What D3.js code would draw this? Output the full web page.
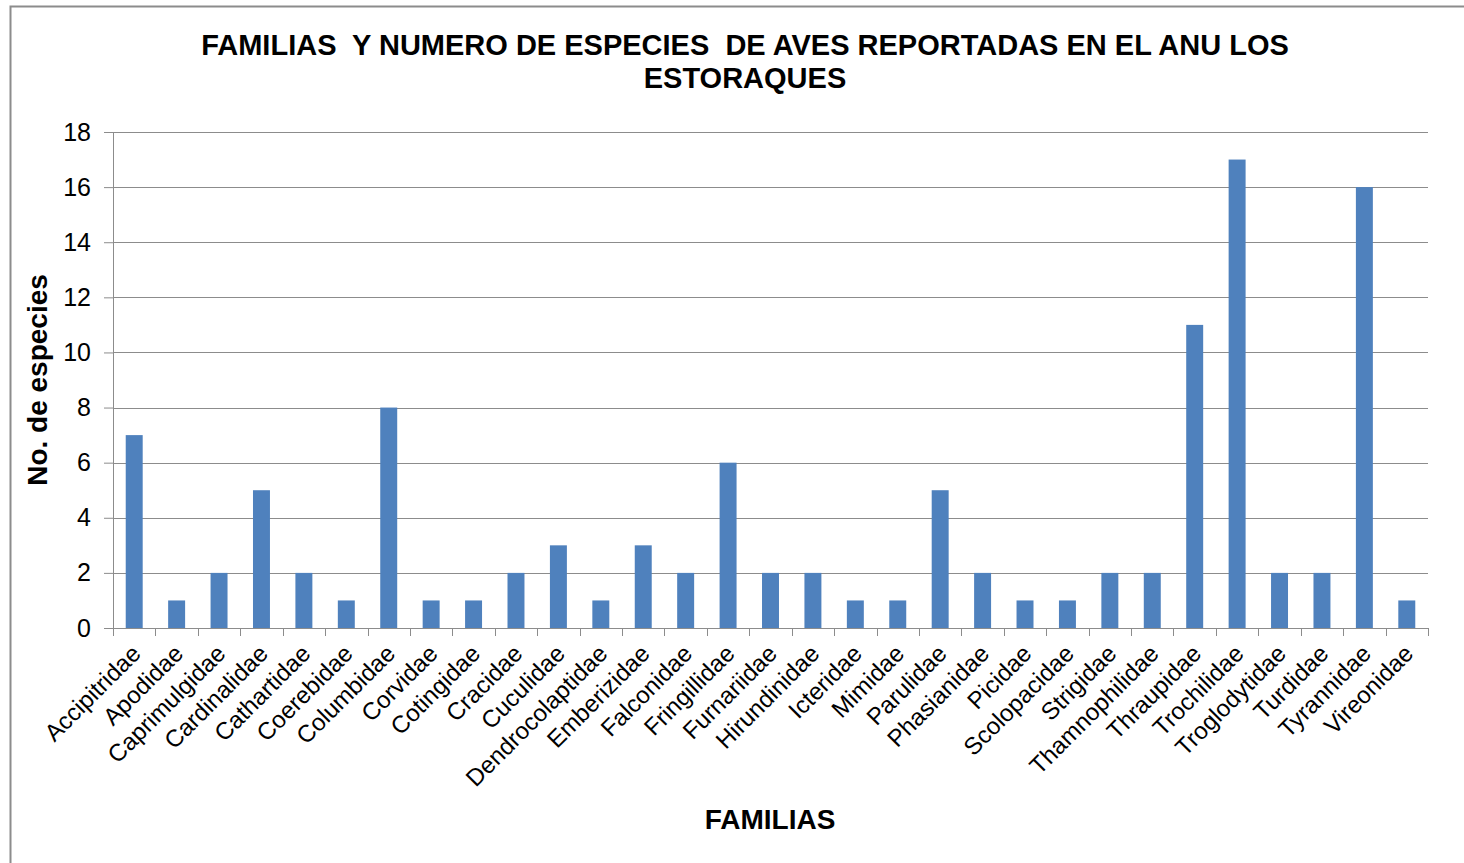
<!DOCTYPE html>
<html>
<head>
<meta charset="utf-8">
<script src="https://cdn.jsdelivr.net/npm/d3@7"></script>
<style>
  body { margin: 0; background: #fff; }
  text { font-family: "Liberation Sans", Arial, sans-serif; }
</style>
</head>
<body>
<div id="chart"></div>
<script>
const width = 1464;
const height = 863;
const margin = { top: 132, right: 36, bottom: 235, left: 113 };

const familias = ["Accipitridae", "Apodidae", "Caprimulgidae", "Cardinalidae", "Cathartidae",
  "Coerebidae", "Columbidae", "Corvidae", "Cotingidae", "Cracidae", "Cuculidae",
  "Dendrocolaptidae", "Emberizidae", "Falconidae", "Fringillidae", "Furnariidae",
  "Hirundinidae", "Icteridae", "Mimidae", "Parulidae", "Phasianidae", "Picidae",
  "Scolopacidae", "Strigidae", "Thamnophilidae", "Thraupidae", "Trochilidae",
  "Troglodytidae", "Turdidae", "Tyrannidae", "Vireonidae"];
const especies = [7, 1, 2, 5, 2, 1, 8, 1, 1, 2, 3, 1, 3, 2, 6, 2, 2, 1, 1, 5, 2, 1, 1, 2, 2, 11, 17, 2, 2, 16, 1];
const yTicks = [0, 2, 4, 6, 8, 10, 12, 14, 16, 18];

const svg = d3.select("#chart")
  .append("svg")
  .attr("width", width)
  .attr("height", height);

// outer frame
svg.append("path")
  .attr("d", `M10.5,${height} L10.5,6.5 L${width},6.5`)
  .attr("fill", "none")
  .attr("stroke", "#8c8c8c")
  .attr("stroke-width", 2);

const innerW = width - margin.left - margin.right;
const innerH = height - margin.top - margin.bottom;

const g = svg.append("g")
  .attr("transform", `translate(${margin.left}, ${margin.top})`);

const x = d3.scaleBand()
  .domain(familias)
  .range([0, innerW])
  .paddingInner(0.6)
  .paddingOuter(0.3);

const y = d3.scaleLinear()
  .domain([0, 18])
  .range([innerH, 0]);

// gridlines
g.append("g")
  .selectAll("line")
  .data(yTicks)
  .join("line")
  .attr("x1", 0)
  .attr("x2", innerW)
  .attr("y1", d => Math.round(y(d)) + 0.5)
  .attr("y2", d => Math.round(y(d)) + 0.5)
  .attr("stroke", "#8c8c8c")
  .attr("stroke-width", 1);

// bars
g.append("g")
  .selectAll("rect")
  .data(especies)
  .join("rect")
  .attr("x", (d, i) => x(familias[i]))
  .attr("y", d => y(d))
  .attr("width", x.bandwidth())
  .attr("height", d => innerH - y(d))
  .attr("fill", "#4f81bd");

// y axis
const yAxis = d3.axisLeft(y)
  .tickValues(yTicks)
  .tickSize(9)
  .tickPadding(13);
const yg = g.append("g").call(yAxis);
yg.selectAll(".domain").attr("stroke", "#8c8c8c").attr("d", `M0.5,0V${innerH}`);
yg.selectAll(".tick line").attr("stroke", "#8c8c8c");
yg.selectAll(".tick text")
  .attr("font-size", 25)
  .attr("fill", "#000")
  .attr("font-family", "Liberation Sans, Arial, sans-serif");

// x axis: ticks at category boundaries
const boundaries = d3.range(familias.length + 1).map(i => i * innerW / familias.length);
const xg = g.append("g").attr("transform", `translate(0, ${innerH})`);
xg.append("line")
  .attr("x1", 0).attr("x2", innerW)
  .attr("y1", 0.5).attr("y2", 0.5)
  .attr("stroke", "#8c8c8c");
xg.selectAll(".bt")
  .data(boundaries)
  .join("line")
  .attr("class", "bt")
  .attr("x1", d => Math.round(d) + 0.5)
  .attr("x2", d => Math.round(d) + 0.5)
  .attr("y1", 0)
  .attr("y2", 8)
  .attr("stroke", "#8c8c8c");

xg.selectAll(".lbl")
  .data(familias)
  .join("text")
  .attr("class", "lbl")
  .attr("text-anchor", "end")
  .attr("font-size", 24)
  .attr("fill", "#000")
  .attr("transform", d => `translate(${x(d) + x.bandwidth() / 2 + 8}, ${27}) rotate(-45)`)
  .text(d => d);

// title
const title = svg.append("text")
  .attr("text-anchor", "middle")
  .attr("font-size", 29)
  .attr("font-weight", "bold")
  .attr("fill", "#000")
  .style("white-space", "pre");
title.append("tspan").attr("x", 745).attr("y", 55)
  .text("FAMILIAS  Y NUMERO DE ESPECIES  DE AVES REPORTADAS EN EL ANU LOS");
title.append("tspan").attr("x", 745).attr("y", 88)
  .text("ESTORAQUES");

// axis titles
svg.append("text")
  .attr("text-anchor", "middle")
  .attr("font-size", 28)
  .attr("font-weight", "bold")
  .attr("transform", `translate(47, ${380}) rotate(-90)`)
  .text("No. de especies");

svg.append("text")
  .attr("text-anchor", "middle")
  .attr("font-size", 28)
  .attr("font-weight", "bold")
  .attr("x", 770)
  .attr("y", 829)
  .text("FAMILIAS");
</script>
</body>
</html>
